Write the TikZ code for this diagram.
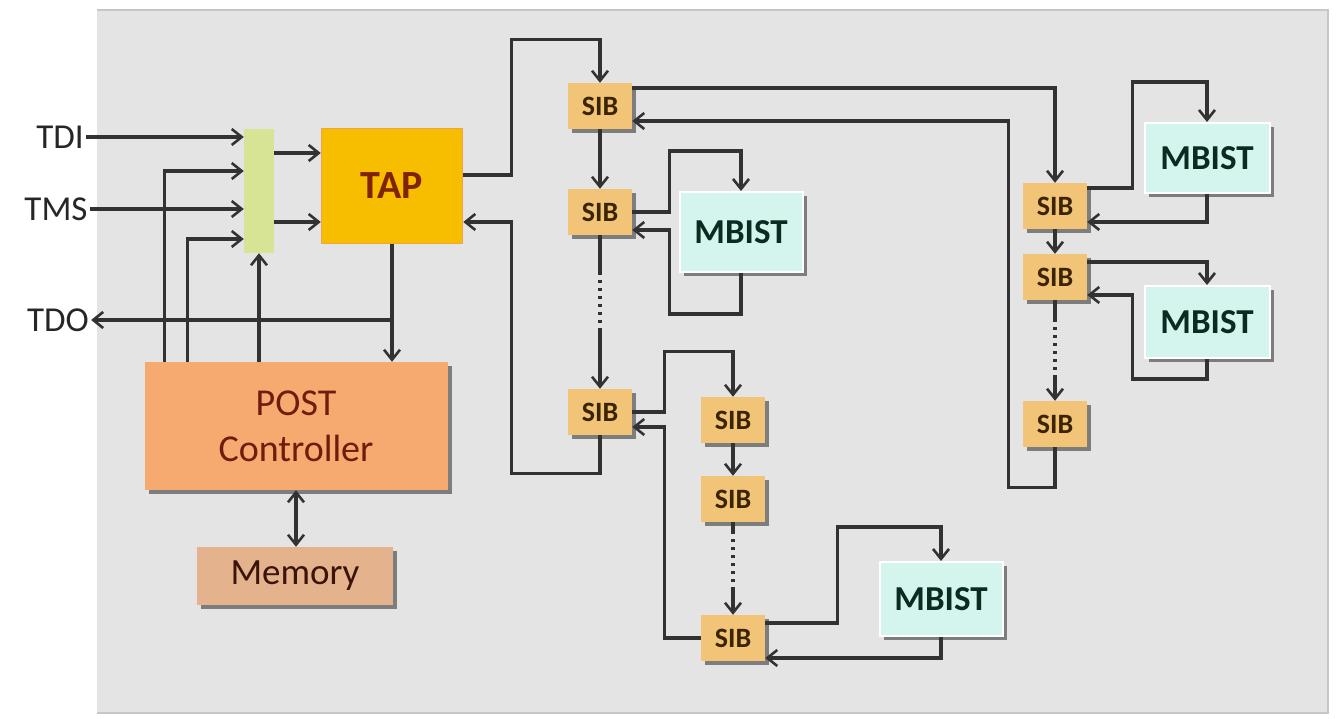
\documentclass[tikz,border=0pt]{standalone}
\usepackage{fontspec}
\setmainfont{Carlito}
\usepackage{xcolor}
\usepackage{tikz}
\usetikzlibrary{arrows.meta,positioning,shadows}
\definecolor{panelgray}{RGB}{228,228,228}
\definecolor{wiregray}{RGB}{50,50,50}
\definecolor{tapgold}{RGB}{247,190,0}
\definecolor{tapedge}{RGB}{242,160,74}
\definecolor{taptext}{RGB}{128,36,0}
\definecolor{muxgreen}{RGB}{215,228,150}
\definecolor{sibtan}{RGB}{241,196,120}
\definecolor{sibtext}{RGB}{59,36,0}
\definecolor{mbistmint}{RGB}{212,245,237}
\definecolor{mbisttext}{RGB}{11,42,32}
\definecolor{postorange}{RGB}{246,170,112}
\definecolor{memtan}{RGB}{228,178,140}
\definecolor{deepred}{RGB}{110,28,12}
\definecolor{memtext}{RGB}{58,20,8}

\begin{document}
\begin{tikzpicture}[x=1pt,y=-1pt,
    wire/.style={draw=wiregray,line width=3.2pt},
    arr/.style={wire,-{Straight Barb[length=10pt,width=16pt,line width=2.6pt]}},
    dblarr/.style={wire,{Straight Barb[length=10pt,width=16pt,line width=2.6pt]}-{Straight Barb[length=10pt,width=16pt,line width=2.6pt]}},
    chaindots/.style={dash pattern=on #1 off 5pt on 3pt off 5pt on 3pt off 5pt on 3pt off 5pt on 3pt off 5pt on 3pt off 5pt on 3pt off 5pt on 100pt},
    shade/.style={drop shadow={shadow xshift=4pt,shadow yshift=-4pt,opacity=.45,fill=black}},
    sig/.style={font=\fontsize{35}{38}\selectfont,text=black!85,inner sep=2pt},
    sib/.style={shade,fill=sibtan,minimum width=64pt,minimum height=46pt,inner sep=0pt,
                font=\bfseries\fontsize{28}{30}\selectfont,text=sibtext},
    mbist/.style={shade,fill=mbistmint,draw=white,line width=2pt,inner sep=0pt,
                  font=\bfseries\fontsize{35}{38}\selectfont,text=mbisttext}]
  \useasboundingbox (0,0) rectangle (1339,719);
  \fill[white] (0,0) rectangle (1339,719);
  \fill[panelgray] (97,10) rectangle (1328,713);
  \draw[gray!45,line width=2.5pt] (97,10) -- (1328,10) -- (1328,713) -- (97,713);

  \node[sig] (tdi) at (60,137) {TDI};
  \node[sig] (tms) at (56,209) {TMS};
  \node[sig] (tdo) at (58,320) {TDO};
  \node[fill=muxgreen,minimum width=30pt,minimum height=124pt,inner sep=0pt] (mux) at (259,191) {};
  \node[fill=tapgold,draw=tapedge,line width=1.5pt,minimum width=141pt,minimum height=115pt,
        font=\bfseries\fontsize{40}{44}\selectfont,text=taptext] (tap) at (392,186) {TAP};
  \node[shade,fill=postorange,minimum width=303pt,minimum height=128pt,align=center,
        font=\fontsize{38}{46}\selectfont,text=deepred] (post) at (296,426) {POST\\Controller};
  \node[shade,fill=memtan,minimum width=196pt,minimum height=58pt,
        font=\fontsize{37}{40}\selectfont,text=memtext] (mem) at (295,576) {Memory};

  \node[sib] (sib1) at (600,106) {SIB};
  \node[sib] (sib2) at (600,212) {SIB};
  \node[sib] (sib3) at (600,412) {SIB};
  \node[sib] (sibA) at (733,420) {SIB};
  \node[sib] (sibB) at (733,499) {SIB};
  \node[sib] (sibC) at (733,638) {SIB};
  \node[sib] (sib4) at (1055,206) {SIB};
  \node[sib] (sib5) at (1055,277) {SIB};
  \node[sib] (sib6) at (1055,424) {SIB};

  \node[mbist,minimum width=123pt,minimum height=80pt] (mb1) at (741,232) {MBIST};
  \node[mbist,minimum width=125pt,minimum height=70pt] (mbr1) at (1207,158) {MBIST};
  \node[mbist,minimum width=125pt,minimum height=72pt] (mbr2) at (1207,322) {MBIST};
  \node[mbist,minimum width=123pt,minimum height=74pt] (mb3) at (941,599) {MBIST};

  \draw[arr] (tdi.east) -- (tdi.east -| mux.west);
  \draw[arr] (tms.east) -- (tms.east -| mux.west);
  \draw[arr] ([xshift=20pt]post.north west) |- ([yshift=20pt]mux.west);
  \draw[arr] ([xshift=43pt]post.north west) |- ([yshift=-48pt]mux.west);
  \draw[arr] (mux.south |- post.north) -- (mux.south);
  \draw[arr] ([yshift=38pt]mux.east -| mux.east) -- ([yshift=38pt]mux.east -| tap.west);
  \draw[arr] ([yshift=-31pt]mux.east -| mux.east) -- ([yshift=-31pt]mux.east -| tap.west);

  \draw[arr] ([yshift=11pt]tap.east) -- ++(48,0) |- ([yshift=43pt]sib1.north) -- (sib1.north);
  \draw[arr] (sib3.south) -- ++(0,38) -| ([xshift=48pt,yshift=-36pt]tap.east) -- ([yshift=-36pt]tap.east);
  \draw[arr] (tap.south) -- (tap.south |- post.north);
  \draw[arr] (tap.south |- tdo.east) -- (tdo.east);
  \draw[dblarr] (post.south) -- (post.south |- mem.north);

  \draw[arr] (sib1.south) -- (sib2.north);
  \draw[arr] ([yshift=18pt]sib1.east) -| (sib4.north);
  \draw[arr] (sib6.south) -- ++(0,40) -| ([xshift=376pt,yshift=-15pt]sib1.east) -- ([yshift=-15pt]sib1.east);
  \draw[arr] (sib2.east) -- ++(37,0) |- ([yshift=40pt]mb1.north) -- (mb1.north);
  \draw[arr] (mb1.south) -- ++(0,41) -| ([xshift=37pt,yshift=-18pt]sib2.east) -- ([yshift=-18pt]sib2.east);
  \draw[arr,chaindots=40pt] (sib2.south) -- (sib3.north);

  \draw[arr] (sib3.east) -- ++(32,0) |- ([yshift=45pt]sibA.north) -- (sibA.north);
  \draw[arr] (sibC.west) -| ([xshift=32pt,yshift=-15pt]sib3.east) -- ([yshift=-15pt]sib3.east);
  \draw[arr] (sibA.south) -- (sibB.north);
  \draw[arr,chaindots=12pt] (sibB.south) -- (sibC.north);
  \draw[arr] ([yshift=15pt]sibC.east) -- ++(72,0) |- ([yshift=34pt]mb3.north) -- (mb3.north);
  \draw[arr] (mb3.south) |- ([yshift=-20pt]sibC.east);

  \draw[arr] (sib4.south) -- (sib5.north);
  \draw[arr] ([yshift=18pt]sib4.east) -- ++(45,0) |- ([yshift=40pt]mbr1.north) -- (mbr1.north);
  \draw[arr] (mbr1.south) |- ([yshift=-16pt]sib4.east);
  \draw[arr] ([yshift=15pt]sib5.east) -| (mbr2.north);
  \draw[arr] (mbr2.south) -- ++(0,20) -| ([xshift=45pt,yshift=-18pt]sib5.east) -- ([yshift=-18pt]sib5.east);
  \draw[arr,chaindots=22pt] (sib5.south) -- (sib6.north);
\end{tikzpicture}
\end{document}
